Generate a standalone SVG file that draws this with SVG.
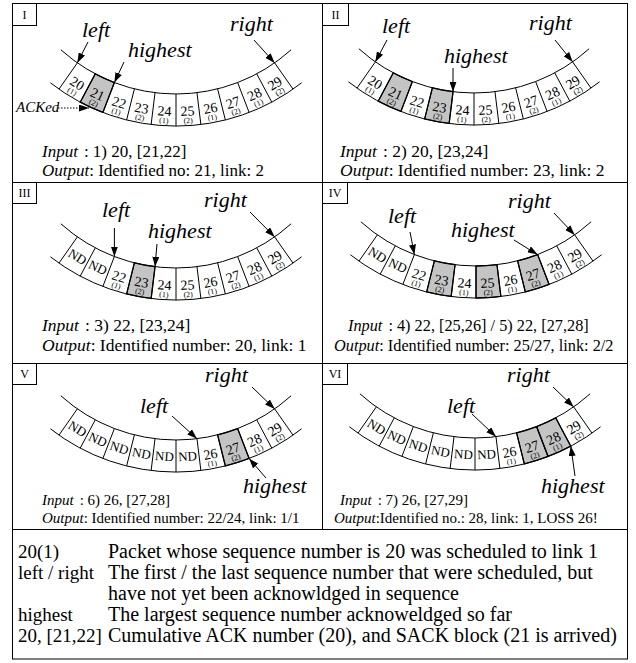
<svg xmlns="http://www.w3.org/2000/svg" width="636" height="663" viewBox="0 0 636 663">
<style>
text{font-family:"Liberation Serif","Times New Roman",serif;fill:#000}
.big{font-size:22px;font-style:italic}
.io{font-size:17px}
.io2{font-size:15px}
.it{font-style:italic}
.num{font-size:14px;text-anchor:middle}
.lk{font-size:8px;text-anchor:middle}
.nd{font-size:13px;text-anchor:middle}
.lab{font-size:12px;text-anchor:middle}
.lg{font-size:20px}
.lg1{font-size:19px}
.ln{fill:none;stroke:#000;stroke-width:1}
.g{fill:#c4c4c4;stroke:#000;stroke-width:1.3}
.arr{fill:none;stroke:#000;stroke-width:1;marker-end:url(#ah)}
.dot{fill:none;stroke:#000;stroke-width:1;stroke-dasharray:1.5 1.5;marker-end:url(#ah)}
</style>
<defs>
<marker id="ah" markerUnits="userSpaceOnUse" markerWidth="10" markerHeight="7" refX="10" refY="3.5" orient="auto"><path d="M0,0 L10,3.5 L0,7 z" fill="#000"/></marker>
<g id="band" class="ln">
<path d="M-115.1,127.8 A172,172 0 0 0 115.1,127.8"/>
<path d="M-125.6,160.8 A204,204 0 0 0 125.6,160.8"/>
<path d="M-98.66,140.9 L-117.01,167.12 M-80.75,151.86 L-95.78,180.11 M-61.64,160.58 L-73.11,190.45 M-41.61,166.89 L-49.35,197.94 M-20.97,170.71 L-24.87,202.47 M0,172 L0,204 M20.97,170.71 L24.87,202.47 M41.61,166.89 L49.35,197.94 M61.64,160.58 L73.11,190.45 M80.75,151.86 L95.78,180.11 M98.66,140.9 L117.01,167.12"/>
</g>
<path id="c1" d="M-80.75,151.86 A172,172 0 0 0 -61.64,160.58 L-73.11,190.45 A204,204 0 0 1 -95.78,180.11 Z"/>
<path id="c3" d="M-41.61,166.89 A172,172 0 0 0 -20.97,170.71 L-24.87,202.47 A204,204 0 0 1 -49.35,197.94 Z"/>
<path id="c5" d="M0,172 A172,172 0 0 0 20.97,170.71 L24.87,202.47 A204,204 0 0 1 0,204 Z"/>
<path id="c7" d="M41.61,166.89 A172,172 0 0 0 61.64,160.58 L73.11,190.45 A204,204 0 0 1 49.35,197.94 Z"/>
<path id="c8" d="M61.64,160.58 A172,172 0 0 0 80.75,151.86 L95.78,180.11 A204,204 0 0 1 73.11,190.45 Z"/>
<g id="tail">
<g transform="rotate(-10.5)"><text class="num" y="194">26</text><text class="lk" y="201.5">(1)</text></g>
<g transform="rotate(-17.5)"><text class="num" y="194">27</text><text class="lk" y="201.5">(2)</text></g>
<g transform="rotate(-24.5)"><text class="num" y="194">28</text><text class="lk" y="201.5">(1)</text></g>
<g transform="rotate(-31.5)"><text class="num" y="194">29</text><text class="lk" y="201.5">(2)</text></g>
</g>
<g id="mid">
<g transform="rotate(17.5)"><text class="num" y="194">22</text><text class="lk" y="201.5">(1)</text></g>
<g transform="rotate(10.5)"><text class="num" y="194">23</text><text class="lk" y="201.5">(2)</text></g>
<g transform="rotate(3.5)"><text class="num" y="194">24</text><text class="lk" y="201.5">(1)</text></g>
<g transform="rotate(-3.5)"><text class="num" y="194">25</text><text class="lk" y="201.5">(2)</text></g>
<use href="#tail"/>
</g>
<g id="t1">
<g transform="rotate(31.5)"><text class="num" y="194">20</text><text class="lk" y="201.5">(1)</text></g>
<g transform="rotate(24.5)"><text class="num" y="194">21</text><text class="lk" y="201.5">(2)</text></g>
<use href="#mid"/>
</g>
<g id="t2">
<text class="nd" y="193" transform="rotate(31.5)">ND</text>
<text class="nd" y="193" transform="rotate(24.5)">ND</text>
<use href="#mid"/>
</g>
<g id="t3">
<text class="nd" y="193" transform="rotate(31.5)">ND</text>
<text class="nd" y="193" transform="rotate(24.5)">ND</text>
<text class="nd" y="193" transform="rotate(17.5)">ND</text>
<text class="nd" y="193" transform="rotate(10.5)">ND</text>
<text class="nd" y="193" transform="rotate(3.5)">ND</text>
<text class="nd" y="193" transform="rotate(-3.5)">ND</text>
<use href="#tail"/>
</g>
</defs>
<rect width="636" height="663" fill="#fff"/>
<g id="frame" class="ln">
<rect x="12.5" y="3.5" width="615" height="655.5"/>
<path d="M322.5,3.5 V529.5 M12.5,182.5 H627.5 M12.5,363.5 H627.5 M12.5,529.5 H627.5"/>
</g>
<g id="panel-I">
<rect class="ln" x="12.5" y="3.5" width="24" height="22"/>
<text class="lab" x="24.5" y="19">I</text>
<g transform="translate(176,-78)"><use href="#c1" class="g"/><use href="#band"/><use href="#t1"/></g>
<text class="big" x="82" y="37">left</text>
<text class="big" x="128" y="57">highest</text>
<text class="big" x="230" y="31">right</text>
<text x="16" y="112" style="font-size:15px;font-style:italic">ACKed</text>
<text class="io" x="42" y="157"><tspan class="it">Input</tspan><tspan dx="6">: 1) 20, [21,22]</tspan></text>
<text class="io" x="42" y="176"><tspan class="it">Output</tspan>: Identified no: 21, link: 2</text>
</g>
<g id="panel-II">
<rect class="ln" x="322.5" y="3.5" width="26" height="22"/>
<text class="lab" x="335.5" y="19">II</text>
<g transform="translate(474,-79)"><use href="#c1" class="g"/><use href="#c3" class="g"/><use href="#band"/><use href="#t1"/></g>
<text class="big" x="382" y="33">left</text>
<text class="big" x="444" y="63">highest</text>
<text class="big" x="529" y="30">right</text>
<text class="io" x="340" y="157" style="font-size:17.5px"><tspan class="it">Input</tspan><tspan dx="6">: 2) 20, [23,24]</tspan></text>
<text class="io" x="340" y="176" style="font-size:17.5px"><tspan class="it">Output</tspan>: Identified number: 23, link: 2</text>
</g>
<g id="panel-III">
<rect class="ln" x="12.5" y="182.5" width="24" height="21"/>
<text class="lab" x="24.5" y="197">III</text>
<g transform="translate(176,96)"><use href="#c3" class="g"/><use href="#band"/><use href="#t2"/></g>
<text class="big" x="102" y="217">left</text>
<text class="big" x="148" y="238">highest</text>
<text class="big" x="204" y="207">right</text>
<text class="io" x="42" y="331" style="font-size:17.5px"><tspan class="it">Input</tspan><tspan dx="6">: 3) 22, [23,24]</tspan></text>
<text class="io" x="42" y="351" style="font-size:17.5px"><tspan class="it">Output</tspan>: Identified number: 20, link: 1</text>
</g>
<g id="panel-IV">
<rect class="ln" x="322.5" y="182.5" width="25" height="21"/>
<text class="lab" x="335" y="197">IV</text>
<g transform="translate(476,94)"><use href="#c3" class="g"/><use href="#c5" class="g"/><use href="#c7" class="g"/><use href="#band"/><use href="#t2"/></g>
<text class="big" x="388" y="223">left</text>
<text class="big" x="451" y="237">highest</text>
<text class="big" x="508" y="208">right</text>
<text class="io" x="348" y="331" style="font-size:16.3px"><tspan class="it">Input</tspan><tspan dx="6">: 4) 22, [25,26] / 5) 22, [27,28]</tspan></text>
<text class="io" x="334" y="351" style="font-size:16.3px"><tspan class="it">Output</tspan>: Identified number: 25/27, link: 2/2</text>
</g>
<g id="panel-V">
<rect class="ln" x="12.5" y="363.5" width="24" height="21"/>
<text class="lab" x="24.5" y="378">V</text>
<g transform="translate(176,268)"><use href="#c7" class="g"/><use href="#band"/><use href="#t3"/></g>
<text class="big" x="205" y="382">right</text>
<text class="big" x="140" y="413">left</text>
<text class="big" x="243" y="493">highest</text>
<text class="io2" x="42" y="505"><tspan class="it">Input</tspan><tspan dx="6">: 6) 26, [27,28]</tspan></text>
<text class="io2" x="42" y="523"><tspan class="it">Output</tspan>: Identified number: 22/24, link: 1/1</text>
</g>
<g id="panel-VI">
<rect class="ln" x="322.5" y="363.5" width="25" height="21"/>
<text class="lab" x="335" y="378">VI</text>
<g transform="translate(475,266)"><use href="#c7" class="g"/><use href="#c8" class="g"/><use href="#band"/><use href="#t3"/></g>
<text class="big" x="507" y="382">right</text>
<text class="big" x="447" y="413">left</text>
<text class="big" x="541" y="493">highest</text>
<text class="io2" x="340" y="505"><tspan class="it">Input</tspan><tspan dx="6">: 7) 26, [27,29]</tspan></text>
<text class="io2" x="334" y="523"><tspan class="it">Output</tspan>:Identified no.: 28, link: 1, LOSS 26!</text>
</g>
<g id="connectors">
<path class="arr" d="M88,42 L77.3,62.9"/>
<path class="arr" d="M124,62 L114.4,82.6"/>
<path class="arr" d="M254,40 L274.7,62.9"/>
<path class="dot" d="M58,108 L89,108"/>
<path class="arr" d="M387,40 L375.3,61.9"/>
<path class="arr" d="M453,68 L453,91.7"/>
<path class="arr" d="M555,40 L572.7,61.9"/>
<path class="arr" d="M114.4,228 L114.4,256.6"/>
<path class="arr" d="M157,244 L155,266.7"/>
<path class="arr" d="M250,212 L274.7,236.9"/>
<path class="arr" d="M410,232 L414.4,254.6"/>
<path class="arr" d="M514,240 L537.6,254.6"/>
<path class="arr" d="M554,213 L574.7,234.9"/>
<path class="arr" d="M252,387 L274.7,408.9"/>
<path class="arr" d="M172,416 L197,438.7"/>
<path class="arr" d="M266,478 L249.1,458.5"/>
<path class="arr" d="M553,387 L573.7,406.9"/>
<path class="arr" d="M472,414 L496,436.7"/>
<path class="arr" d="M575,476 L570.8,446.1"/>
</g>
<g id="legend">
<text class="lg1" x="18" y="558">20(1)</text>
<text class="lg" x="108" y="558">Packet whose sequence number is 20 was scheduled to link 1</text>
<text class="lg1" x="18" y="579">left / right</text>
<text class="lg" x="108" y="579">The first / the last sequence number that were scheduled, but</text>
<text class="lg" x="108" y="600">have not yet been acknowldged in sequence</text>
<text class="lg1" x="18" y="621">highest</text>
<text class="lg" x="108" y="621">The largest sequence number acknoweldged so far</text>
<text class="lg1" x="18" y="642">20, [21,22]</text>
<text class="lg" x="108" y="642">Cumulative ACK number (20), and SACK block (21 is arrived)</text>
</g>
</svg>
